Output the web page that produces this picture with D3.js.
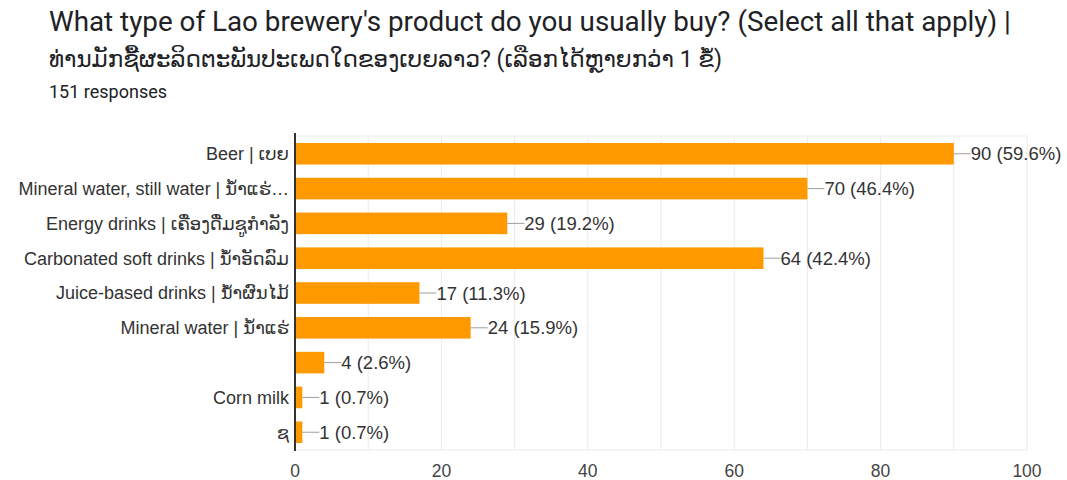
<!DOCTYPE html>
<html>
<head>
<meta charset="utf-8">
<script src="https://cdn.jsdelivr.net/npm/d3@7"></script>
<style>
  body { margin: 0; background: #fff; }
  text { font-family: Arial, "Liberation Sans", "DejaVu Sans", sans-serif; }
  text.title { font-family: Roboto, "DejaVu Sans", sans-serif; }
</style>
</head>
<body>
<svg id="chart" width="1067" height="480"></svg>
<script>
// data
var categories = [
  "Beer | ເບຍ",
  "Mineral water, still water | ນ້ຳແຮ່…",
  "Energy drinks | ເຄື່ອງດື່ມຊູກຳລັງ",
  "Carbonated soft drinks | ນ້ຳອັດລົມ",
  "Juice-based drinks | ນ້ຳຜົນໄມ້",
  "Mineral water | ນ້ຳແຮ່",
  "",
  "Corn milk",
  "ຊ"
];
var counts = [90, 70, 29, 64, 17, 24, 4, 1, 1];
var percents = ["59.6%", "46.4%", "19.2%", "42.4%", "11.3%", "15.9%", "2.6%", "0.7%", "0.7%"];
var xTicks = [0, 20, 40, 60, 80, 100];
var gridTicks = [10, 20, 30, 40, 50, 60, 70, 80, 90, 100];

function drawChart(){
    var svg = d3.select("#chart");

    // titles
    svg.append("text")
        .attr("class", "title")
        .attr("x", 49).attr("y", 31)
        .attr("font-size", 27.8).attr("fill", "#202124")
        .text("What type of Lao brewery's product do you usually buy? (Select all that apply) |");
    svg.append("text")
        .attr("class", "title")
        .attr("x", 49).attr("y", 67)
        .attr("font-size", 23).attr("fill", "#202124")
        .text("ທ່ານມັກຊື້ຜະລິດຕະພັນປະເພດໃດຂອງເບຍລາວ? (ເລືອກໄດ້ຫຼາຍກວ່າ 1 ຂໍ້)");
    svg.append("text")
        .attr("class", "title")
        .attr("x", 49).attr("y", 98)
        .attr("font-size", 18).attr("fill", "#202124")
        .text("151 responses");

    var plotLeft = 295, plotRight = 1027, plotTop = 136, plotBottom = 450;

    var x = d3.scaleLinear().domain([0, 100]).range([plotLeft, plotRight]);
    var y = d3.scaleBand().domain(d3.range(categories.length))
        .range([plotTop, plotBottom]).paddingInner(0.38).paddingOuter(0.2);

    // gridlines
    svg.append("g").selectAll("line.grid")
        .data(gridTicks)
        .enter().append("line")
        .attr("class", "grid")
        .attr("x1", function(d){return x(d);})
        .attr("x2", function(d){return x(d);})
        .attr("y1", plotTop).attr("y2", plotBottom)
        .attr("stroke", "#ebebeb").attr("stroke-width", 1);
    svg.append("line")
        .attr("x1", plotLeft).attr("x2", plotRight).attr("y1", plotTop).attr("y2", plotTop)
        .attr("stroke", "#ebebeb");
    svg.append("line")
        .attr("x1", plotLeft).attr("x2", plotRight).attr("y1", plotBottom).attr("y2", plotBottom)
        .attr("stroke", "#ebebeb");

    // bars
    svg.append("g").selectAll("rect.bar")
        .data(counts)
        .enter().append("rect")
        .attr("class", "bar")
        .attr("x", x(0))
        .attr("y", function(d, i){return y(i);})
        .attr("width", function(d){return x(d) - x(0);})
        .attr("height", y.bandwidth())
        .attr("fill", "#ff9900");

    // leader lines + value labels
    var lab = svg.append("g");
    lab.selectAll("line.lead")
        .data(counts)
        .enter().append("line")
        .attr("class", "lead")
        .attr("x1", function(d){return x(d);})
        .attr("x2", function(d){return x(d) + 17;})
        .attr("y1", function(d, i){return y(i) + y.bandwidth() / 2;})
        .attr("y2", function(d, i){return y(i) + y.bandwidth() / 2;})
        .attr("stroke", "#9e9e9e").attr("stroke-width", 1);
    lab.selectAll("text.val")
        .data(counts)
        .enter().append("text")
        .attr("class", "val")
        .attr("x", function(d){return x(d) + 17;})
        .attr("y", function(d, i){return y(i) + y.bandwidth() / 2;})
        .attr("dy", "0.36em")
        .attr("font-size", 18.5).attr("fill", "#333")
        .text(function(d, i){return d + " (" + percents[i] + ")";});

    // category labels
    svg.append("g").selectAll("text.cat")
        .data(categories)
        .enter().append("text")
        .attr("class", "cat")
        .attr("x", plotLeft - 6)
        .attr("y", function(d, i){return y(i) + y.bandwidth() / 2;})
        .attr("dy", "0.36em")
        .attr("text-anchor", "end")
        .attr("font-size", 18).attr("fill", "#333")
        .text(function(d){return d;});

    // x tick labels
    svg.append("g").selectAll("text.tick")
        .data(xTicks)
        .enter().append("text")
        .attr("class", "tick")
        .attr("x", function(d){return x(d);})
        .attr("y", 477)
        .attr("text-anchor", "middle")
        .attr("font-size", 17.5).attr("fill", "#444")
        .text(function(d){return d;});

    // axis line
    svg.append("line")
        .attr("x1", plotLeft).attr("x2", plotLeft)
        .attr("y1", plotTop - 3).attr("y2", plotBottom + 1)
        .attr("stroke", "#333").attr("stroke-width", 2);
}

drawChart();
</script>
</body>
</html>
